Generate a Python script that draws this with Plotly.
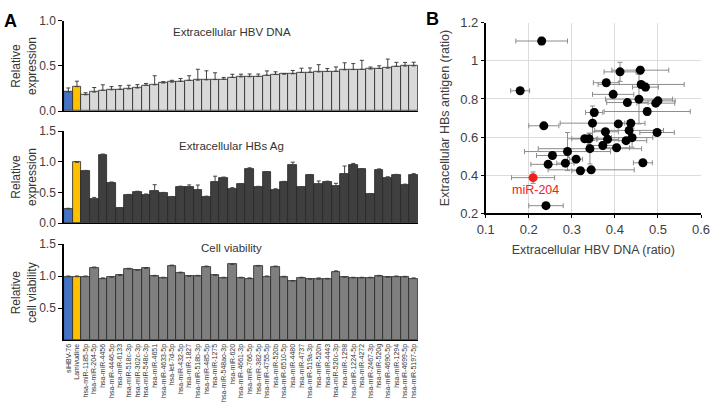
import plotly.graph_objects as go

labels = ["siHBV-76", "Lamivudine", "hsa-miR-1185-5p", "hsa-miR-204-5p", "hsa-miR-4456",
          "hsa-miR-4446-5p", "hsa-miR-6133", "hsa-miR-518c-3p", "hsa-miR-302c-3p",
          "hsa-miR-548c-3p", "hsa-miR-4651", "hsa-miR-4633-5p", "hsa-let-7d-5p",
          "hsa-miR-432-5p", "hsa-miR-1827", "hsa-miR-518b-3p", "hsa-miR-485-5p",
          "hsa-miR-1275", "hsa-miR-548ao-3p", "hsa-miR-620", "hsa-miR-4661-3p",
          "hsa-miR-766-5p", "hsa-miR-382-5p", "hsa-miR-4755-5p", "hsa-miR-520b",
          "hsa-miR-6510-5p", "hsa-miR-4480", "hsa-miR-4737", "hsa-miR-519a-3p",
          "hsa-miR-520h", "hsa-miR-4443", "hsa-miR-520c-3p", "hsa-miR-1298",
          "hsa-miR-1224-5p", "hsa-miR-4272", "hsa-miR-2467-3p", "hsa-miR-520g",
          "hsa-miR-4690-5p", "hsa-miR-1294", "hsa-miR-4699-5p", "hsa-miR-5197-5p"]

hbv_dna = [0.21, 0.27, 0.18, 0.21, 0.23, 0.235, 0.24, 0.245, 0.255, 0.285, 0.29, 0.31,
           0.32, 0.33, 0.34, 0.342, 0.345, 0.348, 0.352, 0.372, 0.378, 0.38, 0.383,
           0.396, 0.404, 0.408, 0.412, 0.426, 0.429, 0.433, 0.437, 0.44, 0.456, 0.459,
           0.461, 0.465, 0.471, 0.475, 0.495, 0.498, 0.5]
hbv_dna_err = [0.045, 0.06, 0.022, 0.05, 0.06, 0.035, 0.04, 0.04, 0.037, 0.02, 0.10, 0.015,
               0.02, 0.03, 0.05, 0.12, 0.10, 0.075, 0.02, 0.035, 0.03, 0.03, 0.026,
               0.048, 0.03, 0.006, 0.037, 0.048, 0.048, 0.08, 0.033, 0.048, 0.078, 0.066,
               0.10, 0.022, 0.03, 0.10, 0.044, 0.04, 0.04]

hbs_ag = [0.23, 0.99, 0.843, 0.387, 1.104, 0.659, 0.24, 0.457, 0.503, 0.463, 0.524, 0.484,
          0.423, 0.591, 0.591, 0.539, 0.428, 0.673, 0.729, 0.556, 0.628, 0.885, 0.588,
          0.824, 0.544, 0.669, 0.942, 0.581, 0.781, 0.635, 0.672, 0.597, 0.799, 0.951,
          0.876, 0.465, 0.862, 0.734, 0.778, 0.624, 0.79]
hbs_ag_err = [0.01, 0.01, 0.015, 0.03, 0.02, 0.01, 0.01, 0.01, 0.015, 0.01, 0.10, 0.015,
              0.01, 0.01, 0.03, 0.08, 0.01, 0.09, 0.02, 0.02, 0.01, 0.015, 0.01, 0.01,
              0.015, 0.01, 0.05, 0.01, 0.01, 0.05, 0.01, 0.05, 0.13, 0.02, 0.01, 0.015,
              0.02, 0.02, 0.015, 0.01, 0.015]

viability = [0.99, 0.99, 0.99, 1.13, 0.96, 0.98, 1.01, 1.11, 1.09, 1.12, 1.0, 0.97, 1.16,
             1.05, 0.995, 1.0, 1.145, 1.01, 0.97, 1.18, 0.97, 0.96, 1.155, 0.99, 1.145,
             0.985, 0.92, 0.97, 0.95, 0.95, 0.953, 1.07, 0.98, 0.97, 0.97, 0.97, 1.0,
             0.98, 0.99, 0.985, 0.96]
viability_err = [0.01, 0.01, 0.01, 0.01, 0.01, 0.01, 0.01, 0.01, 0.01, 0.01, 0.01, 0.01,
                 0.01, 0.01, 0.01, 0.01, 0.01, 0.01, 0.01, 0.01, 0.01, 0.01, 0.01, 0.01,
                 0.01, 0.01, 0.01, 0.01, 0.01, 0.02, 0.01, 0.01, 0.01, 0.01, 0.01, 0.01,
                 0.01, 0.01, 0.01, 0.01, 0.01]

BLUE, YELLOW = "#4472C4", "#FFC000"
FONT = "Arial, Liberation Sans, sans-serif"
W, H = 711, 406


def px_x(p):
    return p / W


def px_y(p):
    return 1 - p / H


def colors(base):
    return [BLUE, YELLOW] + [base] * (len(labels) - 2)


fig = go.Figure()

panels = [
    (hbv_dna, hbv_dna_err, "#D9D9D9", "x", "y"),
    (hbs_ag, hbs_ag_err, "#3F3F3F", "x2", "y2"),
    (viability, viability_err, "#7F7F7F", "x3", "y3"),
]
for vals, errs, base, xa, ya in panels:
    fig.add_trace(go.Bar(
        x=labels, y=vals, xaxis=xa, yaxis=ya,
        marker=dict(color=colors(base), line=dict(color="#262626", width=0.8)),
        error_y=dict(type="data", array=errs, arrayminus=[0] * len(errs), symmetric=False,
                     color="#404040", thickness=1, width=2),
        showlegend=False, hoverinfo="x+y"))

# scatter (panel B)
mir_dna = hbv_dna[2:]
mir_hbs = hbs_ag[2:]
mir_dna_err = hbv_dna_err[2:]
mir_hbs_err = hbs_ag_err[2:]
mir_names = labels[2:]
red_idx = mir_names.index("hsa-miR-204-5p")
blk = [i for i in range(len(mir_names)) if i != red_idx]

ebar = dict(color="#8C8C8C", thickness=1, width=2.5)
fig.add_trace(go.Scatter(
    x=[mir_dna[i] for i in blk], y=[mir_hbs[i] for i in blk],
    error_x=dict(type="data", array=[mir_dna_err[i] for i in blk], **ebar),
    error_y=dict(type="data", array=[mir_hbs_err[i] for i in blk], **ebar),
    mode="markers", marker=dict(color="black", size=9),
    text=[mir_names[i] for i in blk], xaxis="x4", yaxis="y4", showlegend=False))
fig.add_trace(go.Scatter(
    x=[mir_dna[red_idx]], y=[mir_hbs[red_idx]],
    error_x=dict(type="data", array=[mir_dna_err[red_idx]], **ebar),
    error_y=dict(type="data", array=[mir_hbs_err[red_idx]], **ebar),
    mode="markers", marker=dict(color="#F0201A", size=9),
    text=[mir_names[red_idx]], xaxis="x4", yaxis="y4", showlegend=False))

xdom = [px_x(64), px_x(418)]
bar_x_common = dict(domain=xdom, type="category", range=[-0.5, len(labels) - 0.5],
                    showline=True, linecolor="black", linewidth=1.2, ticks="",
                    showgrid=False, zeroline=False, fixedrange=True, automargin=False)
ytick_font = dict(family=FONT, size=12, color="#404040")
bar_y_common = dict(showline=True, linecolor="black", linewidth=1.5, ticks="outside",
                    ticklen=4, tickcolor="black", showgrid=False, zeroline=False,
                    tickfont=ytick_font, tickformat=".1f", automargin=False)

layout = dict(
    width=W, height=H, margin=dict(l=0, r=0, t=0, b=0, pad=0, autoexpand=False),
    paper_bgcolor="white", plot_bgcolor="white", bargap=0,
    font=dict(family=FONT, color="#333333"),
    xaxis=dict(**bar_x_common, anchor="y", showticklabels=False),
    xaxis2=dict(**bar_x_common, anchor="y2", showticklabels=False),
    xaxis3=dict(**bar_x_common, anchor="y3", showticklabels=True, tickangle=-90,
                tickfont=dict(family=FONT, size=7, color="#333333")),
    yaxis=dict(**bar_y_common, domain=[px_y(111), px_y(20.7)], range=[0, 1.0],
               tickvals=[0, 0.5, 1.0], anchor="x"),
    yaxis2=dict(**bar_y_common, domain=[px_y(223), px_y(131)], range=[0, 1.5],
                tickvals=[0, 0.5, 1.0, 1.5], anchor="x2"),
    yaxis3=dict(**bar_y_common, domain=[px_y(340), px_y(244)], range=[0, 1.5],
                tickvals=[0.5, 1.0, 1.5], anchor="x3"),
    xaxis4=dict(domain=[px_x(485.7), px_x(701)], range=[0.1, 0.6], anchor="y4",
                tickvals=[0.1, 0.2, 0.3, 0.4, 0.5, 0.6],
                ticktext=["0.1", "0.2", "0.3", "0.4", "0.5", "0.6"],
                showline=True, linecolor="black", linewidth=1.5, ticks="outside",
                ticklen=3, tickcolor="black", showgrid=True, gridcolor="#DCDCDC",
                gridwidth=1, zeroline=False, automargin=False,
                tickfont=dict(family=FONT, size=13, color="#404040"),
                title=dict(text="Extracellular HBV DNA (ratio)",
                           font=dict(family=FONT, size=12.5, color="#404040"), standoff=10)),
    yaxis4=dict(domain=[px_y(213.3), px_y(22.7)], range=[0.2, 1.2], anchor="x4",
                tickvals=[0.2, 0.4, 0.6, 0.8, 1.0, 1.2],
                ticktext=["0.2", "0.4", "0.6", "0.8", "1", "1.2"],
                showline=True, linecolor="black", linewidth=1.5, ticks="outside",
                ticklen=3, tickcolor="black", showgrid=True, gridcolor="#DCDCDC",
                gridwidth=1, zeroline=False, automargin=False,
                tickfont=dict(family=FONT, size=13, color="#404040"),
                title=dict(text="Extracellular HBs antigen (ratio)",
                           font=dict(family=FONT, size=12.5, color="#404040"), standoff=8)),
)
fig.update_layout(**layout)


def note(text, xp, yp, size, color="#333333", angle=0):
    return dict(text=text, x=px_x(xp), y=px_y(yp), xref="paper", yref="paper",
                xanchor="center", yanchor="middle", textangle=angle, showarrow=False,
                font=dict(family=FONT, size=size, color=color))


ann = [
    note("<b>A</b>", 10, 21, 18, "black"),
    note("<b>B</b>", 432, 19, 18, "black"),
    note("Extracellular HBV DNA", 232, 32, 11.5),
    note("Extracellular HBs Ag", 232, 146, 11.5),
    note("Cell viability", 232, 248, 11.5),
    note("Relative<br>expression", 24, 66, 12, angle=-90),
    note("Relative<br>expression", 24, 177, 12, angle=-90),
    note("Relative<br>cell viability", 24, 292, 12, angle=-90),
]
ann.append(dict(text="miR-204", x=0.216, y=0.322, xref="x4", yref="y4", showarrow=False,
                xanchor="center", yanchor="middle",
                font=dict(family=FONT, size=12.5, color="#F0201A")))
fig.update_layout(annotations=ann)

fig.write_html("out.html")
